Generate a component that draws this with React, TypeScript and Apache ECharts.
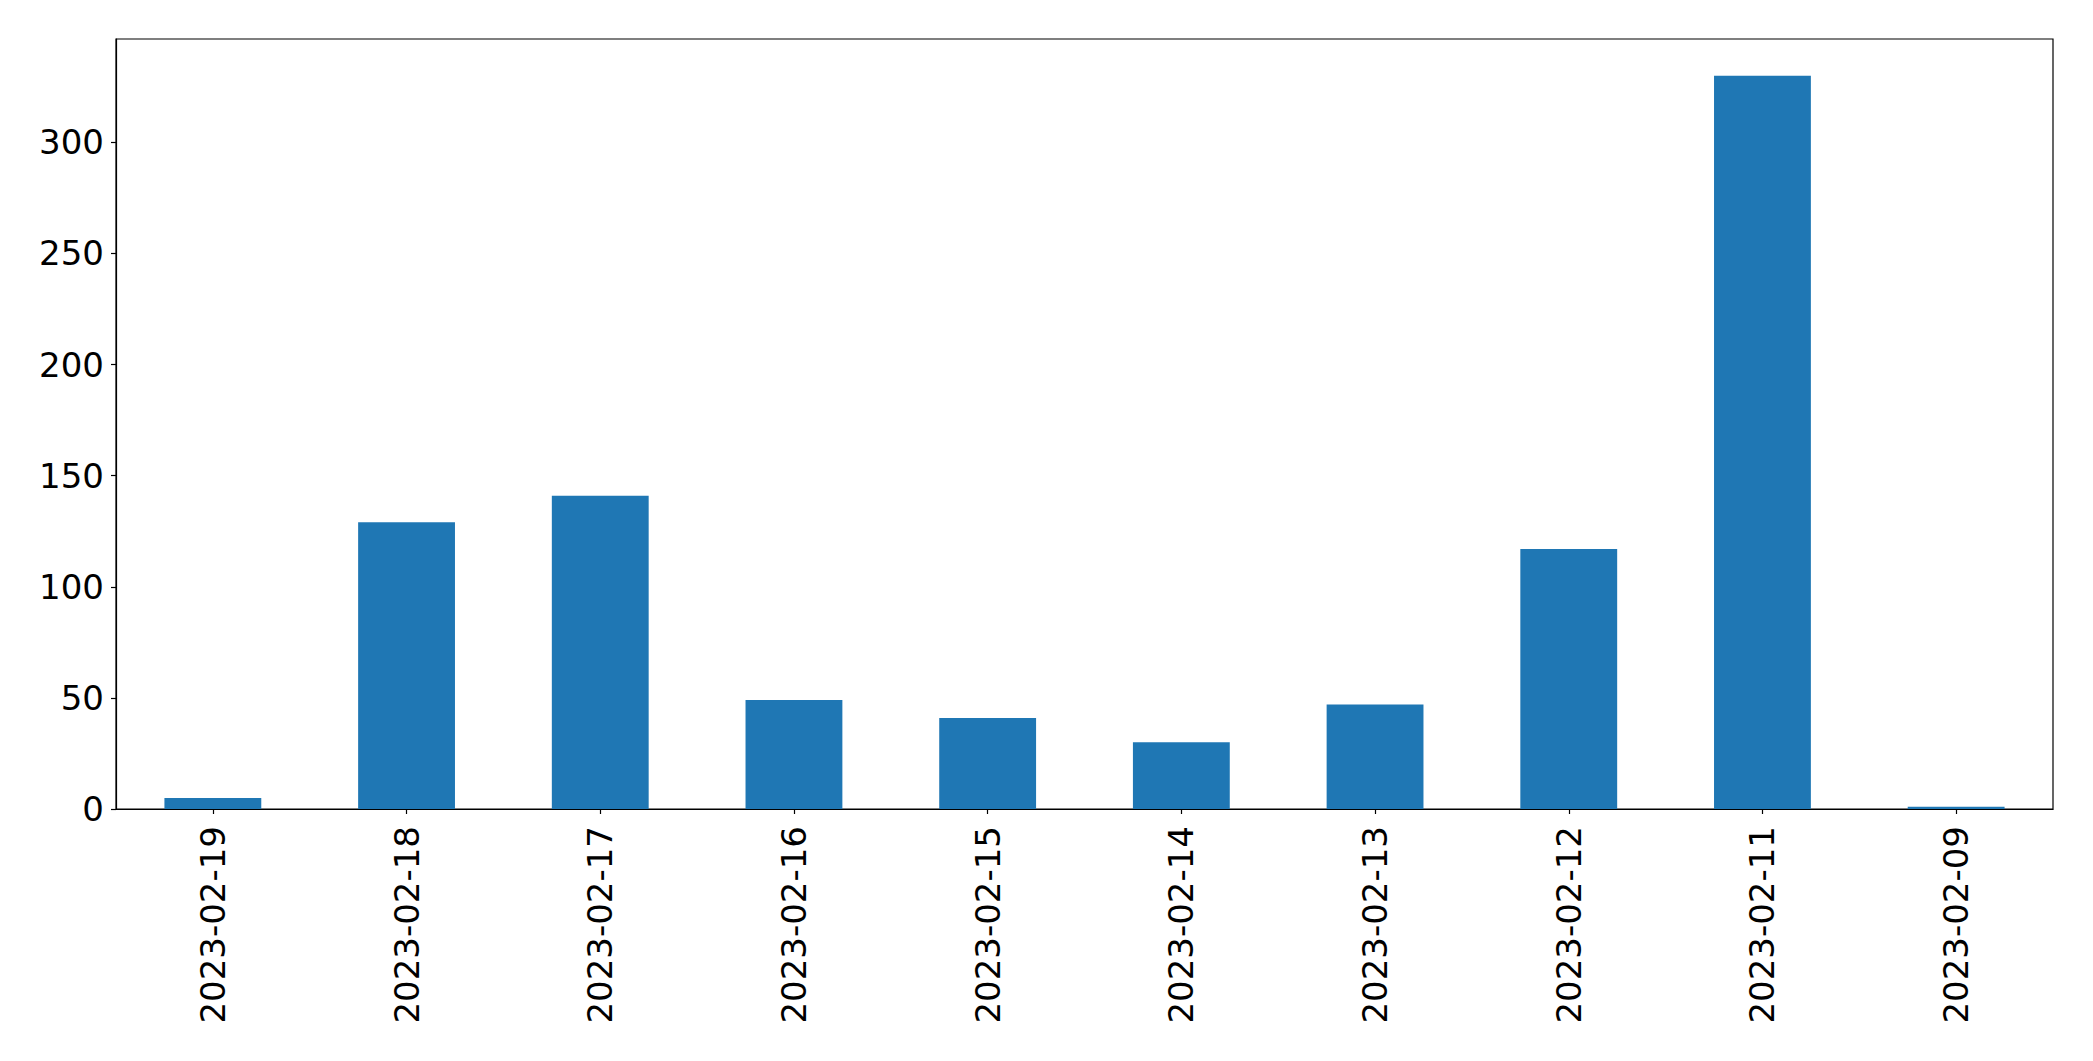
import React, { useEffect, useRef } from "react";
import * as echarts from "echarts";

const categories = [
  "2023-02-19",
  "2023-02-18",
  "2023-02-17",
  "2023-02-16",
  "2023-02-15",
  "2023-02-14",
  "2023-02-13",
  "2023-02-12",
  "2023-02-11",
  "2023-02-09",
];
const values = [5, 129, 141, 49, 41, 30, 47, 117, 330, 1];
const yTicks = [0, 50, 100, 150, 200, 250, 300];
const yMax = 346.5;

export default function App() {
  const ref = useRef<HTMLDivElement>(null);
  useEffect(() => {
    if (!ref.current) return;
    const chart = echarts.init(ref.current, null, { renderer: "svg" });
    const font = { fontFamily: "DejaVu Sans", fontSize: 34, color: "#000" };
    chart.setOption({
      animation: false,
      backgroundColor: "#fff",
      grid: {
        left: 116,
        top: 39,
        right: 40,
        bottom: 252,
        show: true,
        borderColor: "#000",
        borderWidth: 1.2,
        backgroundColor: "transparent",
      },
      xAxis: {
        type: "category",
        data: categories,
        axisLine: { show: true, lineStyle: { color: "#000", width: 1.2 } },
        axisTick: { show: true, alignWithLabel: true, length: 5, lineStyle: { color: "#000", width: 1.2 } },
        axisLabel: { ...font, rotate: 90, margin: 17, interval: 0 },
        splitLine: { show: false },
      },
      yAxis: {
        type: "value",
        min: 0,
        max: yMax,
        axisLine: { show: true, lineStyle: { color: "#000", width: 1.2 } },
        axisTick: { show: true, length: 5, customValues: yTicks, lineStyle: { color: "#000", width: 1.2 } },
        axisLabel: { ...font, margin: 12, customValues: yTicks },
        splitLine: { show: false },
      },
      series: [
        {
          type: "bar",
          data: values,
          barWidth: "50%",
          itemStyle: { color: "#1f77b4" },
        },
      ],
    });
    return () => chart.dispose();
  }, []);
  return (
    <div
      ref={ref}
      style={{ position: "fixed", left: 0, top: 0, width: 2093, height: 1061, background: "#fff" }}
    />
  );
}
